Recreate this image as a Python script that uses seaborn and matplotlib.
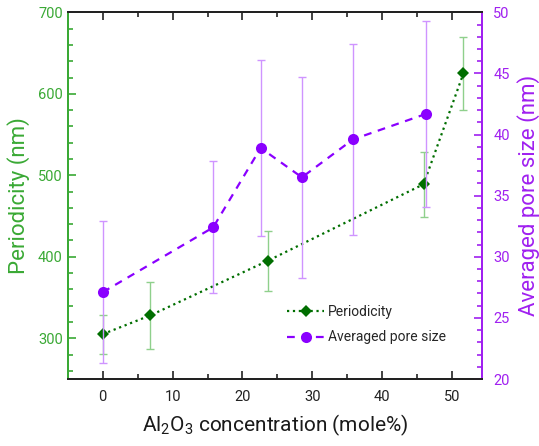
import matplotlib
matplotlib.use("Agg")
import matplotlib.pyplot as plt
from matplotlib.ticker import MultipleLocator
from matplotlib.lines import Line2D
import seaborn as sns
import pandas as pd

# Periodicity measurements
per_x = [0, 6.8, 23.6, 45.9, 51.6]
per_y = [305, 328, 395, 489, 625]
per_err = [24, 41, 37, 40, 45]

# Averaged pore size measurements
pore_x = [0, 15.8, 22.6, 28.5, 35.8, 46.3]
pore_y = [27.1, 32.4, 38.9, 36.5, 39.6, 41.7]
pore_err = [5.8, 5.4, 7.2, 8.2, 7.8, 7.6]

sns.set_style("white")
plt.rcParams["font.family"] = ["Roboto", "DejaVu Sans"]
plt.rcParams["mathtext.fontset"] = "custom"
plt.rcParams["mathtext.rm"] = "Roboto"
plt.rcParams["mathtext.default"] = "rm"

GREEN_AX = "#3aa935"
GREEN_MK = "#006e00"
GREEN_EB = "#8fd08c"
PURPLE_AX = "#a020f0"
PURPLE_MK = "#8a00ff"
PURPLE_EB = "#cf94ff"

fig = plt.figure(figsize=(5.39, 4.46), dpi=100)
ax = fig.add_axes([0.1256, 0.1502, 0.7692, 0.8222])
ax2 = ax.twinx()

df_per = pd.DataFrame({"x": per_x, "y": per_y})
df_pore = pd.DataFrame({"x": pore_x, "y": pore_y})

ax.errorbar(per_x, per_y, yerr=per_err, fmt="none", ecolor=GREEN_EB,
            elinewidth=1.0, capsize=3, capthick=1.0, zorder=2)
sns.lineplot(data=df_per, x="x", y="y", ax=ax, color=GREEN_MK, linestyle=":",
             linewidth=1.6, marker="D", markersize=6.5, markeredgewidth=0,
             zorder=3)

ax2.errorbar(pore_x, pore_y, yerr=pore_err, fmt="none", ecolor=PURPLE_EB,
             elinewidth=1.0, capsize=3, capthick=1.0, zorder=2)
sns.lineplot(data=df_pore, x="x", y="y", ax=ax2, color=PURPLE_MK,
             linestyle=(0, (3.5, 3)), linewidth=1.6, marker="o",
             markersize=8, markeredgewidth=0, zorder=3)

ax.set_xlim(-5, 54.3)
ax.set_ylim(250, 700)
ax2.set_ylim(20, 50)

ax.xaxis.set_major_locator(MultipleLocator(10))
ax.xaxis.set_minor_locator(MultipleLocator(5))
ax.yaxis.set_major_locator(MultipleLocator(100))
ax.yaxis.set_minor_locator(MultipleLocator(20))
ax2.yaxis.set_major_locator(MultipleLocator(5))
ax2.yaxis.set_minor_locator(MultipleLocator(1))

ax.tick_params(axis="x", which="both", direction="in", top=True, bottom=True,
               colors="#222222", labelsize=10.5, pad=8)
ax.tick_params(axis="x", which="major", length=6, width=1.2)
ax.tick_params(axis="x", which="minor", length=3.5, width=1.2)
ax.tick_params(axis="y", which="both", direction="in", left=True, right=False,
               colors=GREEN_AX, labelsize=10.5, width=1.2)
ax.tick_params(axis="y", which="major", length=6)
ax.tick_params(axis="y", which="minor", length=3.5)
ax2.tick_params(axis="y", which="both", direction="in", right=True,
                colors=PURPLE_AX, labelsize=10.5, width=1.2, pad=8)
ax2.tick_params(axis="y", which="major", length=6)
ax2.tick_params(axis="y", which="minor", length=3.5)

for a in (ax, ax2):
    for s in a.spines.values():
        s.set_linewidth(1.4)
    a.spines["top"].set_color("#222222")
    a.spines["bottom"].set_color("#222222")
    a.spines["left"].set_color(GREEN_AX)
    a.spines["right"].set_color(PURPLE_AX)

ax.set_xlabel("Al$_2$O$_3$ concentration (mole%)", fontsize=15,
              color="#1a1a1a", labelpad=6)
ax.set_ylabel("Periodicity (nm)", fontsize=16, color=GREEN_AX, labelpad=6)
ax2.set_ylabel("Averaged pore size (nm)", fontsize=16, color=PURPLE_AX,
               labelpad=5)

handles = [
    Line2D([], [], color=GREEN_MK, linestyle=":", linewidth=1.6, marker="D",
           markersize=6.5, markeredgewidth=0),
    Line2D([], [], color=PURPLE_MK, linestyle=(0, (3.5, 3)), linewidth=1.6,
           marker="o", markersize=8, markeredgewidth=0),
]
ax2.legend(handles, ["Periodicity", "Averaged pore size"], frameon=False,
           loc="upper left", bbox_to_anchor=(0.50, 0.235), fontsize=10,
           handlelength=2.6, handletextpad=0.3, labelspacing=0.8)

fig.savefig("out.png", dpi=100)
